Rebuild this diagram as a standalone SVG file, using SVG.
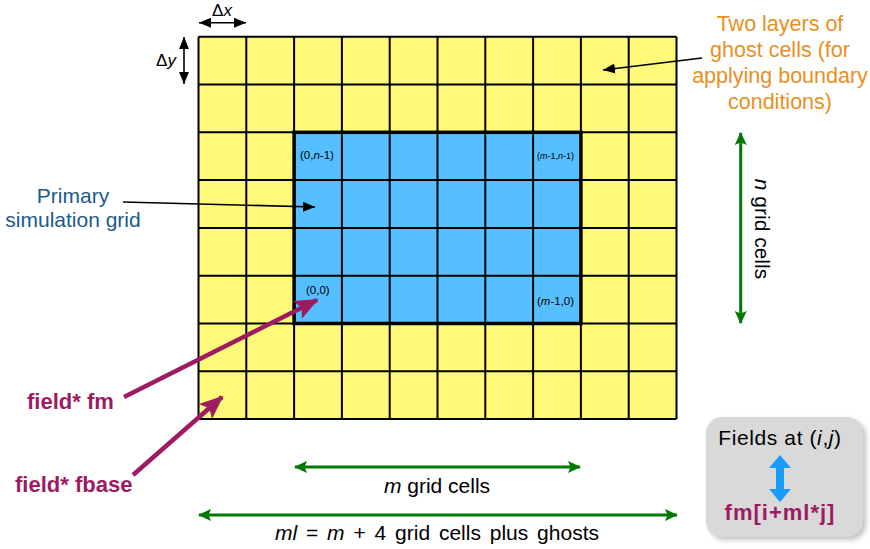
<svg xmlns="http://www.w3.org/2000/svg" width="870" height="549" viewBox="0 0 870 549">
<style>
text{font-family:"Liberation Sans","DejaVu Sans",sans-serif;}
.gl{stroke:#000;stroke-width:2;fill:none;}
.blk{stroke:#000;stroke-width:1.6;fill:none;}
.grn{stroke:#007a00;stroke-width:3;fill:none;}
.pur{stroke:#9c1b63;stroke-width:4.5;fill:none;}
.orange{fill:#e8901f;font-size:21.5px;text-anchor:middle;}
.dblue{fill:#1c5a8a;font-size:21px;text-anchor:middle;}
.lab{fill:#000;font-size:21px;text-anchor:middle;}
.purt{fill:#9c1b63;font-size:22px;font-weight:bold;}
.small{fill:#000;font-size:11.5px;}
.tiny{fill:#000;font-size:9px;}
</style>
<defs>
<marker id="ab" markerUnits="userSpaceOnUse" markerWidth="14" markerHeight="12" refX="12" refY="6" orient="auto-start-reverse"><path d="M0,1 L12,6 L0,11 Z" fill="#000"/></marker>
<marker id="ag" markerUnits="userSpaceOnUse" markerWidth="14" markerHeight="14" refX="12" refY="7" orient="auto-start-reverse"><path d="M0,1 L13,7 L0,13 L2.5,7 Z" fill="#007a00"/></marker>
<marker id="ap" markerUnits="userSpaceOnUse" markerWidth="26" markerHeight="22" refX="22" refY="11" orient="auto"><path d="M0,1 L24,11 L0,21 L5,11 Z" fill="#9c1b63"/></marker>
<filter id="sh" x="-20%" y="-20%" width="140%" height="140%"><feGaussianBlur stdDeviation="2.5"/></filter>
</defs>

<g id="grid">
<rect x="198.5" y="36.7" width="478" height="382.4" fill="#fff97a"/>
<rect x="294.1" y="132.3" width="286.8" height="191.2" fill="#55bfff"/>
<path class="gl" d="M198.5,36.7V419.1M246.3,36.7V419.1M294.1,36.7V419.1M341.9,36.7V419.1M389.7,36.7V419.1M437.5,36.7V419.1M485.3,36.7V419.1M533.1,36.7V419.1M580.9,36.7V419.1M628.7,36.7V419.1M676.5,36.7V419.1M198.5,36.7H676.5M198.5,84.5H676.5M198.5,132.3H676.5M198.5,180.1H676.5M198.5,227.9H676.5M198.5,275.7H676.5M198.5,323.5H676.5M198.5,371.3H676.5M198.5,419.1H676.5"/>
<rect x="294.1" y="132.3" width="286.8" height="191.2" fill="none" stroke="#000" stroke-width="3.5"/>
<text class="small" x="300" y="159">(0,<tspan font-style="italic">n</tspan>-1)</text>
<text class="tiny" x="537" y="158.5">(<tspan font-style="italic">m</tspan>-1,<tspan font-style="italic">n</tspan>-1)</text>
<text class="small" x="306" y="294">(0,0)</text>
<text class="small" x="537" y="305">(<tspan font-style="italic">m</tspan>-1,0)</text>
</g>

<g id="delta-labels">
<text x="222" y="16" font-size="17" fill="#000" text-anchor="middle">Δ<tspan font-style="italic">x</tspan></text>
<text x="166" y="66" font-size="17" fill="#000" text-anchor="middle">Δ<tspan font-style="italic">y</tspan></text>
</g>

<g id="ghost-label">
<text class="orange" x="780" y="31">Two layers of</text>
<text class="orange" x="780" y="57">ghost cells (for</text>
<text class="orange" x="780" y="83">applying boundary</text>
<text class="orange" x="780" y="109">conditions)</text>
</g>

<g id="primary-label">
<text class="dblue" x="73" y="203">Primary</text>
<text class="dblue" x="73" y="227">simulation grid</text>
</g>

<g id="n-label">
<text class="lab" transform="translate(755,229) rotate(90)"><tspan font-style="italic">n</tspan> grid cells</text>
</g>

<g id="fm-label"><text class="purt" x="27" y="409">field* fm</text></g>
<g id="fbase-label"><text class="purt" x="15" y="492">field* fbase</text></g>

<g id="m-label"><text class="lab" x="437" y="493"><tspan font-style="italic">m</tspan> grid cells</text></g>
<g id="ml-label"><text class="lab" x="437" y="540" word-spacing="3"><tspan font-style="italic">ml</tspan> = <tspan font-style="italic">m</tspan> + 4 grid cells plus ghosts</text></g>

<g id="fields-box">
<rect x="709" y="420" width="157" height="120" rx="16" fill="#9a9a9a" opacity="0.6" filter="url(#sh)"/>
<rect x="706" y="417" width="157" height="120" rx="16" fill="#d9d9d9"/>
<text class="lab" x="780" y="445" letter-spacing="0.6">Fields at (<tspan font-style="italic">i</tspan>,<tspan font-style="italic">j</tspan>)</text>
<polygon points="780,455 791,468 784,468 784,489 791,489 780,502 769,489 776,489 776,468 769,468" fill="#1a9cff"/>
<text class="purt" x="780" y="520" text-anchor="middle" letter-spacing="1">fm[i+ml*j]</text>
</g>

<g id="connectors">
<path class="blk" d="M199,22.7H246" marker-start="url(#ab)" marker-end="url(#ab)"/>
<path class="blk" d="M184,37V84" marker-start="url(#ab)" marker-end="url(#ab)"/>
<path class="blk" d="M702,58L603,70" marker-end="url(#ab)"/>
<path class="blk" d="M123,202L315,207" marker-end="url(#ab)"/>
<path class="grn" d="M740.7,133V323" marker-start="url(#ag)" marker-end="url(#ag)"/>
<path class="grn" d="M295,467H580" marker-start="url(#ag)" marker-end="url(#ag)"/>
<path class="grn" d="M199,515H677" marker-start="url(#ag)" marker-end="url(#ag)"/>
<path class="pur" d="M124,397L317,300" marker-end="url(#ap)"/>
<path class="pur" d="M133,475L222,397" marker-end="url(#ap)"/>
</g>
</svg>
